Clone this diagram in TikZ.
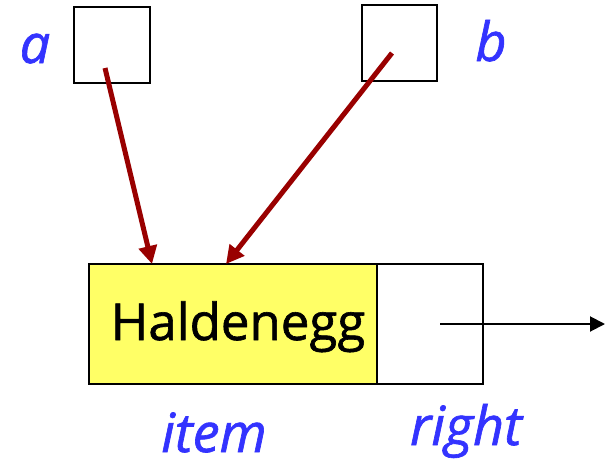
\documentclass[tikz,border=0pt]{standalone}
\usepackage{fontspec}
\setmainfont{Open Sans}
\newfontfamily\heavyfont[FakeBold=1.2]{Open Sans}
\usetikzlibrary{arrows.meta}
\definecolor{ptr}{RGB}{153,0,0}
\definecolor{lbl}{RGB}{51,51,255}
\definecolor{cell}{RGB}{255,255,102}
\begin{document}
\begin{tikzpicture}[x=1pt,y=-1pt,
  refbox/.style={draw=black,line width=2pt,inner sep=0pt},
  ptrarrow/.style={draw=ptr,line width=5pt,-{Triangle[length=18pt,width=18pt]}},
  lab/.style={text=lbl,font=\heavyfont\fontsize{54}{54}\selectfont\itshape,inner sep=0pt,anchor=base}]
\useasboundingbox (0,0) rectangle (606,464);
\node[refbox,minimum width=76pt,minimum height=76pt] (a) at (112,45) {};
\node[refbox,minimum width=75pt,minimum height=76pt] (b) at (399.5,43) {};
\node[refbox,fill=cell,minimum width=288pt,minimum height=120pt] (item) at (233,324) {};
\node[refbox,minimum width=106pt,minimum height=120pt] (right) at (430,324) {};
\node[inner sep=0pt,anchor=base,font=\heavyfont\fontsize{51}{51}\selectfont] (txt) at (238,340) {Haldenegg};
\node[lab] (la) at (35,63) {a};
\node[lab] (lb) at (491,61) {b};
\node[lab] (litem) at (214,452) {item};
\node[lab] (lright) at (466,445) {right};
\coordinate (as) at (105,68);
\coordinate (bs) at (392,53);
\coordinate (ae) at (152,264);
\coordinate (be) at (226,264);
\coordinate (rs) at (440,324);
\coordinate (re) at (605,324);
\draw[ptrarrow] (as) -- (ae);
\draw[ptrarrow] (bs) -- (be);
\draw[line width=2pt,-{Triangle[length=15pt,width=15pt]}] (rs) -- (re);
\end{tikzpicture}
\end{document}
